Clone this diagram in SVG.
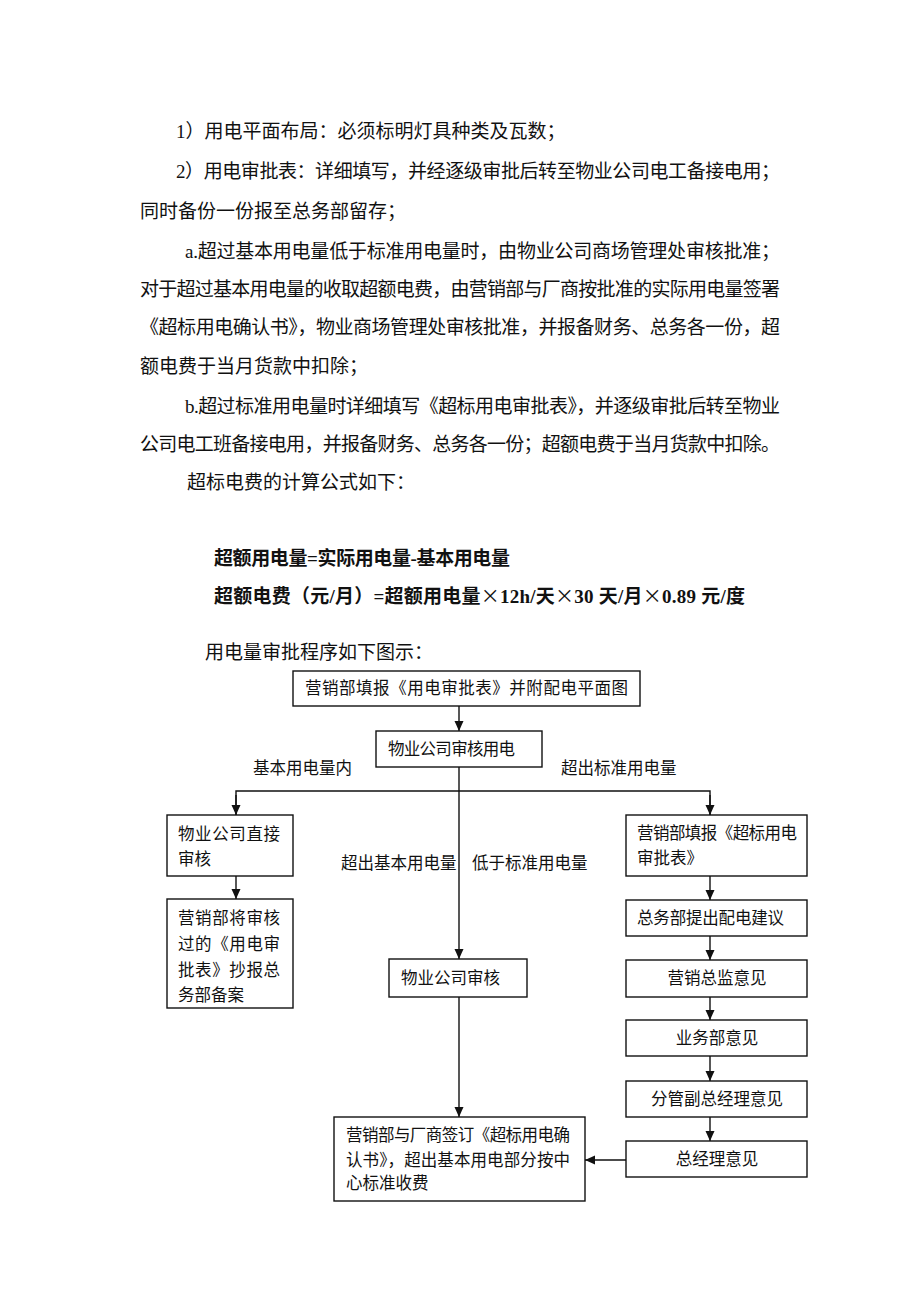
<svg xmlns="http://www.w3.org/2000/svg" width="920" height="1302" viewBox="0 0 920 1302">
<style>
.t{font-family:"Liberation Serif","Noto Sans CJK SC",serif;font-size:19px;fill:#111}
.b{font-weight:bold}
.x{font-family:"Noto Sans CJK SC",sans-serif;font-weight:normal}
.d{font-family:"Liberation Serif","Noto Sans CJK SC",serif;font-size:16.5px;fill:#111}
.box{fill:#fff;stroke:#111;stroke-width:1.4}
.c{stroke:#111;stroke-width:1.4;fill:none}
.m{text-anchor:middle}
</style>
<defs>
<marker id="ah" viewBox="0 0 10 10" refX="10" refY="5" markerWidth="10" markerHeight="10" markerUnits="userSpaceOnUse" orient="auto">
<path d="M0,0.5 L10,5 L0,9.5 Z" fill="#111"/>
</marker>
</defs>
<rect width="920" height="1302" fill="#fff"/>
<g id="body-text">
<text class="t" x="176" y="138">1）用电平面布局：必须标明灯具种类及瓦数；</text>
<text class="t" x="176" y="178" textLength="604" lengthAdjust="spacing">2）用电审批表：详细填写，并经逐级审批后转至物业公司电工备接电用；</text>
<text class="t" x="140" y="218">同时备份一份报至总务部留存；</text>
<text class="t" x="185" y="258" textLength="595" lengthAdjust="spacing">a.超过基本用电量低于标准用电量时，由物业公司商场管理处审核批准；</text>
<text class="t" x="140" y="296" textLength="640" lengthAdjust="spacing">对于超过基本用电量的收取超额电费，由营销部与厂商按批准的实际用电量签署</text>
<text class="t" x="140" y="334" textLength="640" lengthAdjust="spacing">《超标用电确认书》，物业商场管理处审核批准，并报备财务、总务各一份，超</text>
<text class="t" x="140" y="373">额电费于当月货款中扣除；</text>
<text class="t" x="185" y="413" textLength="595" lengthAdjust="spacing">b.超过标准用电量时详细填写《超标用电审批表》，并逐级审批后转至物业</text>
<text class="t" x="140" y="451" textLength="640" lengthAdjust="spacing">公司电工班备接电用，并报备财务、总务各一份；超额电费于当月货款中扣除。</text>
<text class="t" x="187" y="489">超标电费的计算公式如下：</text>
<text class="t b" x="214" y="565" textLength="296" lengthAdjust="spacing">超额用电量=实际用电量-基本用电量</text>
<text class="t b" x="214" y="603" textLength="531" lengthAdjust="spacing">超额电费（元/月）=超额用电量<tspan class="x">×</tspan>12h/天<tspan class="x">×</tspan>30 天/月<tspan class="x">×</tspan>0.89 元/度</text>
<text class="t" x="205" y="659">用电量审批程序如下图示：</text>
</g>
<g id="connectors">
<line class="c" x1="459" y1="706" x2="459" y2="731" marker-end="url(#ah)"/>
<line class="c" x1="459" y1="767" x2="459" y2="959" marker-end="url(#ah)"/>
<polyline class="c" points="236,815 236,791 710,791 710,815"/>
<line class="c" x1="236" y1="795" x2="236" y2="815" marker-end="url(#ah)"/>
<line class="c" x1="710" y1="795" x2="710" y2="815" marker-end="url(#ah)"/>
<line class="c" x1="236" y1="876" x2="236" y2="899" marker-end="url(#ah)"/>
<line class="c" x1="710" y1="876" x2="710" y2="900" marker-end="url(#ah)"/>
<line class="c" x1="710" y1="936" x2="710" y2="960" marker-end="url(#ah)"/>
<line class="c" x1="710" y1="997" x2="710" y2="1020" marker-end="url(#ah)"/>
<line class="c" x1="710" y1="1056" x2="710" y2="1081" marker-end="url(#ah)"/>
<line class="c" x1="710" y1="1117" x2="710" y2="1141" marker-end="url(#ah)"/>
<line class="c" x1="459" y1="997" x2="459" y2="1117" marker-end="url(#ah)"/>
<line class="c" x1="626" y1="1160" x2="585" y2="1160" marker-end="url(#ah)"/>
<text class="d" x="253" y="774">基本用电量内</text>
<text class="d" x="561" y="774">超出标准用电量</text>
<text class="d" x="341" y="869">超出基本用电量</text>
<text class="d" x="472" y="869">低于标准用电量</text>
</g>
<g id="n-start">
<rect class="box" x="293" y="671" width="347" height="35"/>
<text class="d" x="305" y="694" textLength="323" lengthAdjust="spacing">营销部填报《用电审批表》并附配电平面图</text>
</g>
<g id="n-review">
<rect class="box" x="376" y="731" width="166" height="36"/>
<text class="d" x="388" y="755" textLength="127" lengthAdjust="spacing">物业公司审核用电</text>
</g>
<g id="n-direct">
<rect class="box" x="167" y="815" width="126" height="61"/>
<text class="d" x="178" y="840" textLength="102" lengthAdjust="spacing">物业公司直接</text>
<text class="d" x="178" y="865">审核</text>
</g>
<g id="n-file">
<rect class="box" x="167" y="899" width="126" height="109"/>
<text class="d" x="178" y="924" textLength="102" lengthAdjust="spacing">营销部将审核</text>
<text class="d" x="178" y="950" textLength="102" lengthAdjust="spacing">过的《用电审</text>
<text class="d" x="178" y="976" textLength="102" lengthAdjust="spacing">批表》抄报总</text>
<text class="d" x="178" y="1001">务部备案</text>
</g>
<g id="n-mid">
<rect class="box" x="389" y="959" width="138" height="38"/>
<text class="d" x="401" y="984">物业公司审核</text>
</g>
<g id="n-sign">
<rect class="box" x="334" y="1117" width="251" height="84"/>
<text class="d" x="346" y="1141" textLength="224" lengthAdjust="spacing">营销部与厂商签订《超标用电确</text>
<text class="d" x="346" y="1166" textLength="224" lengthAdjust="spacing">认书》，超出基本用电部分按中</text>
<text class="d" x="346" y="1189">心标准收费</text>
</g>
<g id="n-fill">
<rect class="box" x="626" y="815" width="181" height="61"/>
<text class="d" x="637" y="839" textLength="160" lengthAdjust="spacing">营销部填报《超标用电</text>
<text class="d" x="637" y="864">审批表》</text>
</g>
<g id="n-general">
<rect class="box" x="626" y="900" width="181" height="36"/>
<text class="d" x="637" y="924" textLength="147" lengthAdjust="spacing">总务部提出配电建议</text>
</g>
<g id="n-director">
<rect class="box" x="626" y="960" width="181" height="37"/>
<text class="d m" x="717" y="984">营销总监意见</text>
</g>
<g id="n-business">
<rect class="box" x="626" y="1020" width="181" height="36"/>
<text class="d m" x="717" y="1044">业务部意见</text>
</g>
<g id="n-vp">
<rect class="box" x="626" y="1081" width="181" height="36"/>
<text class="d m" x="717" y="1105">分管副总经理意见</text>
</g>
<g id="n-gm">
<rect class="box" x="626" y="1141" width="181" height="36"/>
<text class="d m" x="717" y="1165">总经理意见</text>
</g>
</svg>
